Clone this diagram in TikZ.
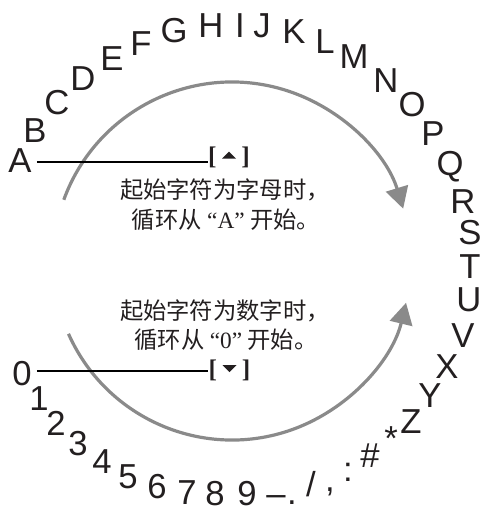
\documentclass[tikz,border=0pt]{standalone}
\usepackage{fontspec}
\usepackage{graphicx}
\setmainfont{Liberation Serif}
\newfontfamily\sansf{Liberation Sans}
\newfontfamily\cjk{Noto Sans CJK SC}
\usetikzlibrary{arrows.meta}
\definecolor{arcgray}{HTML}{8A8A8A}
\definecolor{ink}{HTML}{231F20}
\begin{document}
\begin{tikzpicture}[x=0.75pt,y=-0.75pt,
  ch/.style={font=\sansf\fontsize{26pt}{30pt}\selectfont, text=ink, inner sep=0pt, anchor=base},
  cn/.style={font=\cjk\fontsize{17.5pt}{21pt}\selectfont, text=ink, inner sep=0pt, anchor=base},
  brk/.style={font=\bfseries\fontsize{19pt}{22pt}\selectfont, text=ink, inner sep=0pt},
  hline/.style={draw=black, line width=1.4pt},
  circ/.style={draw=arcgray, line width=2.4pt, -{Triangle[length=16pt,width=17pt]}}]
\useasboundingbox (0,0) rectangle (480,512);
% letters
\node[ch] (A) at (20,172) {A};
\node[ch] (B) at (35,142) {B};
\node[ch] (C) at (57,114) {C};
\node[ch] (D) at (83,90) {D};
\node[ch] (E) at (112,70) {E};
\node[ch] (F) at (141,55) {F};
\node[ch] (G) at (174,42) {G};
\node[ch] (H) at (211,37) {H};
\node[ch] (I) at (240,37) {I};
\node[ch] (J) at (262,37) {J};
\node[ch] (K) at (294,43) {K};
\node[ch] (L) at (325,53) {L};
\node[ch] (M) at (354,68) {M};
\node[ch] (N) at (386,92) {N};
\node[ch] (O) at (412,116) {O};
\node[ch] (P) at (433,145) {P};
\node[ch] (Q) at (450,175) {Q};
\node[ch] (R) at (463,213) {R};
\node[ch] (S) at (470,244.5) {S};
\node[ch] (T) at (470,278) {T};
\node[ch] (U) at (469,311) {U};
\node[ch] (V) at (463,347) {V};
\node[ch] (X) at (447,378) {X};
\node[ch] (Y) at (430,407) {Y};
\node[ch] (Z) at (411,433) {Z};
\node[ch] (ast) at (391,450) {*};
\node[ch] (hash) at (370,467) {\#};
\node[ch] (colon) at (348,481) {:};
\node[ch] (comma) at (330,491) {,};
\node[ch] (slash) at (311,496) {/};
\node[ch] (dot) at (292,504) {.};
\node[ch] (dash) at (276,505) {–};
\node[ch] (n9) at (247,505) {9};
\node[ch] (n8) at (215,505) {8};
\node[ch] (n7) at (187,504) {7};
\node[ch] (n6) at (157,498) {6};
\node[ch] (n5) at (128,488) {5};
\node[ch] (n4) at (102,473) {4};
\node[ch] (n3) at (78,455) {3};
\node[ch] (n2) at (56,435) {2};
\node[ch] (n1) at (39,410) {1};
\node[ch] (n0) at (22,385) {0};
% arcs
\draw[circ] (232,261) ++(-160:179) arc[start angle=-160, end angle=-17, radius=179];
\draw[circ] (232,261) ++(156:179) arc[start angle=156, end angle=13.5, radius=179];
% bracket markers
\node[brk] (br1) at (229,157.5) {[\hspace*{18.5pt}]};
\node[brk] (br2) at (229.5,370) {[\hspace*{18.5pt}]};
\fill[ink] ([shift={(-7,1)}]br1.center) -- ([shift={(7,1)}]br1.center) -- ([shift={(0,-6)}]br1.center) -- cycle;
\fill[ink] ([shift={(-7,-5)}]br2.center) -- ([shift={(7,-5)}]br2.center) -- ([shift={(0,2)}]br2.center) -- cycle;
\draw[hline] ([shift={(5,1.5)}]A.east) -- ([shift={(0,1.5)}]A.east -| br1.west);
\draw[hline] ([shift={(5,-2.5)}]n0.east) -- ([shift={(0,-2.5)}]n0.east -| br2.west);
% texts
\node[cn] (t1a) at (225,198) {起始字符为字母时，};
\node[cn] (t1b) at (226,228) {循环从 {\rmfamily “A”} 开始。};
\node[cn] (t2a) at (225,319) {起始字符为数字时，};
\node[cn] (t2b) at (226,348) {循环从 {\rmfamily “0”} 开始。};
\end{tikzpicture}
\end{document}
